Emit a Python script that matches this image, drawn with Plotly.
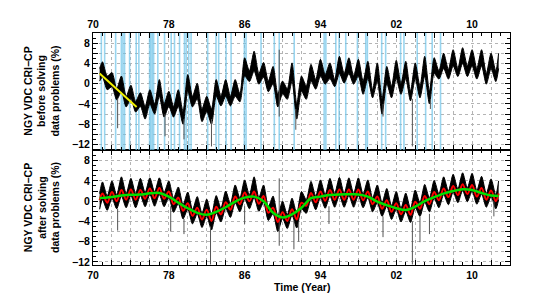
import numpy as np
import plotly.graph_objects as go

# ---------------- data ----------------
T_START = 1970.7
T_END = 2012.8
# sample times: start, then Y.0 (seasonal max) and Y.5 (seasonal min) for 1971..2012, end
T = [T_START] + [1971.0 + 0.5 * i for i in range(84)] + [T_END]

# top panel (before solving data problems): upper / lower edge of the black band
top_hi = [3.0,
          4.3, 1.5, 2.2, -1.0, 1.5, -2.5, -0.3, -3.5, -1.8, -4.5,
          -1.2, -4.0, 0.8, -4.0, -1.5, -4.5, -1.2, -5.5, 1.8, -2.5,
          0.1, -5.0, -2.5, -5.0, 0.8, -2.5, 0.8, -2.5, 0.8, -2.0,
          5.1, 2.5, 6.4, 2.0, 4.2, 0.5, 3.4, -2.0, 0.5, -1.0,
          4.1, -4.0, 1.5, -0.5, 3.8, 0.8, 4.8, 1.8, 4.1, 0.8,
          5.4, 2.0, 5.1, 1.5, 4.8, 0.5, 4.4, -1.2, 4.1, -3.0,
          3.4, -0.5, 4.6, 0.0, 4.4, -1.5, 4.1, -0.5, 5.4, -1.5,
          5.1, 2.5, 6.0, 2.8, 6.7, 3.0, 7.1, 3.5, 6.7, 3.0,
          6.7, 2.0, 6.0, 2.5,
          6.0]
top_lo = [0.5,
          1.3, -1.2, -0.6, -3.2, -1.6, -4.6, -3.0, -5.6, -4.5, -7.0,
          -4.0, -6.0, -2.5, -6.6, -4.5, -6.6, -4.5, -8.0, -1.5, -4.6,
          -3.0, -7.5, -5.5, -8.0, -2.5, -4.4, -2.5, -4.4, -2.5, -3.6,
          1.5, 0.4, 2.5, -0.1, 1.3, -1.6, 0.0, -4.6, -2.0, -3.1,
          0.5, -7.0, -1.5, -3.1, 0.5, -1.1, 1.5, -0.1, 1.0, -0.6,
          2.0, 0.1, 2.0, -0.1, 1.5, -2.1, 1.0, -2.8, 0.5, -6.0,
          0.0, -2.8, 1.0, -2.1, 1.0, -3.4, 1.0, -2.8, 1.5, -4.0,
          2.0, 0.9, 3.0, 0.9, 3.5, 1.4, 4.0, 1.4, 3.5, 0.9,
          3.5, -0.1, 3.0, 0.4,
          3.0]

# isolated downward spikes, top panel
top_spike_t = [1972.6, 1977.6, 1979.6, 1982.5, 1989.65, 1991.4, 2000.6, 2003.7, 2005.6]
top_spike_lo = [-8.8, -10.4, -11.0, -12.4, -6.5, -9.1, -6.5, -12.4, -5.0]
top_spike_hi = [-3.0, -6.0, -7.0, -7.0, 6.7, -5.0, -4.0, -3.0, -3.0]

# yellow trend segment, top panel
yellow_t = [1970.7, 1974.6]
yellow_v = [2.0, -4.6]

# light-blue event markers (years), top panel
event_t = [1970.88, 1971.23, 1972.39, 1972.99, 1973.16, 1973.33, 1973.86, 1974.56,
           1974.84, 1975.97, 1976.1, 1976.25, 1976.4, 1976.84, 1977.55, 1978.25,
           1978.6, 1979.13, 1979.65, 1979.83, 1980.1, 1980.35, 1982.1, 1982.98,
           1983.26, 1984.04, 1984.57, 1985.97, 1986.15, 1987.73, 1989.13, 1989.65,
           1991.23, 1994.39, 1994.57, 1995.62, 1995.97, 1996.67, 1997.9, 1998.78,
           1998.95, 2000.46, 2000.88, 2002.46, 2002.81, 2004.21, 2005.1, 2005.79,
           2006.67]

# bottom panel (after solving data problems)
bot_hi = [1.5,
          3.8, 1.0, 4.0, 1.2, 4.8, 1.5, 4.5, 1.5, 4.5, 1.7,
          4.6, 1.8, 4.6, 1.7, 4.0, 0.6, 2.8, -0.7, 1.8, -1.7,
          0.9, -2.4, 0.4, -2.7, 1.1, -1.4, 2.0, -0.5, 3.2, 0.6,
          4.2, 1.2, 4.8, 0.7, 3.2, -1.1, 1.0, -2.9, 0.0, -2.7,
          0.6, -2.4, 1.9, 0.3, 3.9, 1.0, 4.2, 1.3, 4.5, 1.5,
          4.7, 1.5, 4.6, 1.5, 4.6, 1.4, 4.2, 0.6, 3.2, -0.3,
          2.5, -0.9, 1.9, -1.4, 1.6, -1.5, 2.2, -0.3, 3.3, 0.6,
          4.1, 1.4, 4.8, 2.0, 5.3, 2.4, 5.6, 2.6, 5.5, 2.1,
          4.9, 1.5, 4.4, 1.2,
          4.0]
bot_lo = [-1.6,
          0.3, -1.8, 0.6, -1.5, 1.0, -1.3, 1.1, -1.3, 1.1, -1.1,
          1.3, -1.0, 1.3, -1.1, 0.7, -2.2, -0.5, -3.5, -1.6, -4.5,
          -2.5, -5.2, -2.9, -5.7, -2.3, -4.1, -1.4, -3.2, -0.3, -2.1,
          0.5, -1.5, 0.7, -2.0, -0.2, -3.8, -2.5, -6.0, -3.4, -5.4,
          -2.8, -5.3, -1.5, -2.4, 0.4, -1.7, 0.7, -1.4, 1.0, -1.2,
          1.1, -1.2, 1.1, -1.2, 1.1, -1.3, 0.7, -2.1, -0.3, -3.0,
          -1.0, -3.6, -1.6, -4.1, -2.0, -4.2, -1.3, -3.0, -0.2, -2.1,
          0.6, -1.3, 1.3, -0.7, 1.8, -0.3, 2.1, -0.1, 2.0, -0.6,
          1.4, -1.2, 0.9, -1.5,
          0.3]
red_v = [0.2,
         1.5, -0.3, 1.8, 0.0, 2.2, 0.3, 2.3, 0.3, 2.2, 0.5,
         2.5, 0.6, 2.6, 0.5, 1.9, -0.6, 0.7, -1.9, -0.4, -2.9,
         -1.3, -3.6, -1.7, -3.9, -1.1, -2.6, -0.2, -1.7, 0.9, -0.6,
         1.7, 0.0, 1.9, -0.5, 1.0, -2.3, -1.3, -4.1, -2.2, -3.9,
         -1.6, -3.6, -0.3, -0.9, 1.6, -0.2, 1.9, 0.1, 2.2, 0.3,
         2.3, 0.3, 2.3, 0.3, 2.3, 0.2, 1.9, -0.6, 0.9, -1.5,
         0.2, -2.1, -0.4, -2.6, -0.75, -2.7, -0.1, -1.5, 1.0, -0.6,
         1.8, 0.2, 2.5, 0.8, 3.0, 1.2, 3.35, 1.4, 3.2, 0.9,
         2.6, 0.3, 2.1, 0.0,
         1.5]
green_t = [1970.7] + list(range(1971, 2013)) + [2012.8]
green_v = [0.6,
           0.65, 0.8, 1.1, 1.27, 1.3, 1.55, 1.6, 0.9, -0.3, -1.4,
           -2.3, -2.7, -2.1, -1.2, -0.1, 0.7, 0.9, 0.0, -2.3, -3.2,
           -2.6, -1.3, 0.6, 0.9, 1.2, 1.33, 1.35, 1.33, 0.9, -0.1,
           -0.8, -1.4, -1.75, -1.1, 0.0, 0.8, 1.5, 2.0, 2.35, 2.2,
           1.6, 1.1,
           1.0]

bot_spike_t = [1972.6, 1978.2, 1979.6, 1982.4, 1986.0, 1989.65, 1991.2, 1991.7,
               1994.9, 2000.6, 2003.7, 2004.5, 2005.5, 2012.3]
bot_spike_lo = [-5.8, -6.0, -6.5, -12.5, -4.5, -8.8, -9.5, -8.0, -4.5, -7.1, -12.5, -8.1, -6.5, -3.0]
bot_spike_hi = [-1.5, -1.0, -3.5, -5.0, -1.0, 4.5, -4.0, -4.0, -1.0, -3.0, -4.0, -3.0, -2.5, 0.0]

# axes
X_RANGE = [1970, 2014]
TOP_RANGE = [-13.1, 10.0]
BOT_RANGE = [-12.6, 10.1]
x_label_years = [1970, 1978, 1986, 1994, 2002, 2010]
x_label_text = ["70", "78", "86", "94", "02", "10"]
y_label_vals = [-12, -8, -4, 0, 4, 8]
y_label_text = ["\u221212", "\u22128", "\u22124", "0", "4", "8"]

# ---------------- figure ----------------
FONT = "Liberation Sans, Arial, sans-serif"
TXT = dict(family=FONT, size=10.5, color="black", weight="bold")
fig = go.Figure()

def seg_xy(ts, los, his):
    xs, ys = [], []
    for t, a, b in zip(ts, los, his):
        xs += [t, t, None]
        ys += [a, b, None]
    return xs, ys

BAND_LINE = dict(color="black", width=1, shape="spline", smoothing=0.7)

# --- top panel ---
ex, ey = seg_xy(event_t, [TOP_RANGE[0]] * len(event_t), [TOP_RANGE[1]] * len(event_t))
fig.add_trace(go.Scatter(x=ex, y=ey, mode="lines", xaxis="x2", yaxis="y2",
                         line=dict(color="rgba(110,195,232,0.7)", width=1.6),
                         hoverinfo="skip", showlegend=False))
fig.add_trace(go.Scatter(x=T, y=top_lo, mode="lines", xaxis="x2", yaxis="y2",
                         line=BAND_LINE, showlegend=False))
fig.add_trace(go.Scatter(x=T, y=top_hi, mode="lines", xaxis="x2", yaxis="y2",
                         fill="tonexty", fillcolor="black",
                         line=BAND_LINE, showlegend=False))
sx, sy = seg_xy(top_spike_t, top_spike_lo, top_spike_hi)
fig.add_trace(go.Scatter(x=sx, y=sy, mode="lines", xaxis="x2", yaxis="y2",
                         line=dict(color="#555555", width=1), showlegend=False))
fig.add_trace(go.Scatter(x=yellow_t, y=yellow_v, mode="lines", xaxis="x2", yaxis="y2",
                         line=dict(color="#f0f000", width=2), showlegend=False))

# --- bottom panel ---
fig.add_trace(go.Scatter(x=T, y=bot_lo, mode="lines", xaxis="x", yaxis="y",
                         line=BAND_LINE, showlegend=False))
fig.add_trace(go.Scatter(x=T, y=bot_hi, mode="lines", xaxis="x", yaxis="y",
                         fill="tonexty", fillcolor="black",
                         line=BAND_LINE, showlegend=False))
sx, sy = seg_xy(bot_spike_t, bot_spike_lo, bot_spike_hi)
fig.add_trace(go.Scatter(x=sx, y=sy, mode="lines", xaxis="x", yaxis="y",
                         line=dict(color="#555555", width=1), showlegend=False))
fig.add_trace(go.Scatter(x=T, y=red_v, mode="lines", xaxis="x", yaxis="y",
                         line=dict(color="#ff0000", width=2, shape="spline", smoothing=1.0),
                         showlegend=False))
fig.add_trace(go.Scatter(x=green_t, y=green_v, mode="lines", xaxis="x", yaxis="y",
                         line=dict(color="#00e000", width=2.5, shape="spline", smoothing=1.0),
                         showlegend=False))

x_tickvals = list(range(X_RANGE[0], X_RANGE[1] + 1, 2))
x_ticktext = [x_label_text[x_label_years.index(v)] if v in x_label_years else "" for v in x_tickvals]

GRID = dict(showgrid=True, gridcolor="#b4b4b4", griddash="dot", gridwidth=1)

def xaxis_cfg(anchor, side):
    return dict(range=X_RANGE, anchor=anchor, side=side, domain=[0, 1],
                tickmode="array", tickvals=x_tickvals, ticktext=x_ticktext,
                ticks="inside", ticklen=5, tickcolor="black", tickwidth=1,
                minor=dict(dtick=1, tick0=1970, ticks="inside", ticklen=3,
                           tickcolor="black", showgrid=False),
                showline=True, linecolor="black", linewidth=1, mirror="ticks",
                zeroline=False, tickfont=TXT, **GRID)

y_tickvals = list(range(-12, 11, 2))
y_ticktext = [y_label_text[y_label_vals.index(v)] if v in y_label_vals else "" for v in y_tickvals]

def yaxis_cfg(anchor, rng, dom):
    return dict(range=rng, anchor=anchor, domain=dom,
                tickmode="array", tickvals=y_tickvals, ticktext=y_ticktext,
                ticks="inside", ticklen=5, tickcolor="black", tickwidth=1,
                minor=dict(dtick=1, tick0=0, ticks="inside", ticklen=3,
                           tickcolor="black", showgrid=False),
                showline=True, linecolor="black", linewidth=1, mirror="ticks",
                zeroline=False, tickfont=TXT, **GRID)

split = 115 / 232
fig.update_layout(
    width=534, height=300,
    margin=dict(l=93, r=24, t=33, b=35, pad=0),
    paper_bgcolor="white", plot_bgcolor="white",
    xaxis=xaxis_cfg("y", "bottom"),
    xaxis2=dict(xaxis_cfg("y2", "top"), matches="x"),
    yaxis=yaxis_cfg("x", BOT_RANGE, [0, split]),
    yaxis2=yaxis_cfg("x2", TOP_RANGE, [split, 1]),
    showlegend=False,
    hovermode=False,
    font=TXT,
)

title_x = (41 - 93) / 417
fig.add_annotation(text="NGY VDC CRI\u2212CP<br>before solving<br>data problems (%)",
                   xref="paper", yref="paper", x=title_x, y=(265 - 91.5) / 232,
                   xanchor="center", yanchor="middle", textangle=-90, showarrow=False,
                   font=TXT)
fig.add_annotation(text="NGY VDC CRI\u2212CP<br>after solving<br>data problems (%)",
                   xref="paper", yref="paper", x=title_x, y=(265 - 208) / 232,
                   xanchor="center", yanchor="middle", textangle=-90, showarrow=False,
                   font=TXT)
fig.add_annotation(text="Time (Year)", xref="paper", yref="paper",
                   x=0.5, y=(265 - 287) / 232, xanchor="center", yanchor="middle",
                   showarrow=False, font=TXT)

fig.write_html("out.html", config={"displayModeBar": False},
               post_script="document.body.style.margin='0';document.body.style.overflow='hidden';")
